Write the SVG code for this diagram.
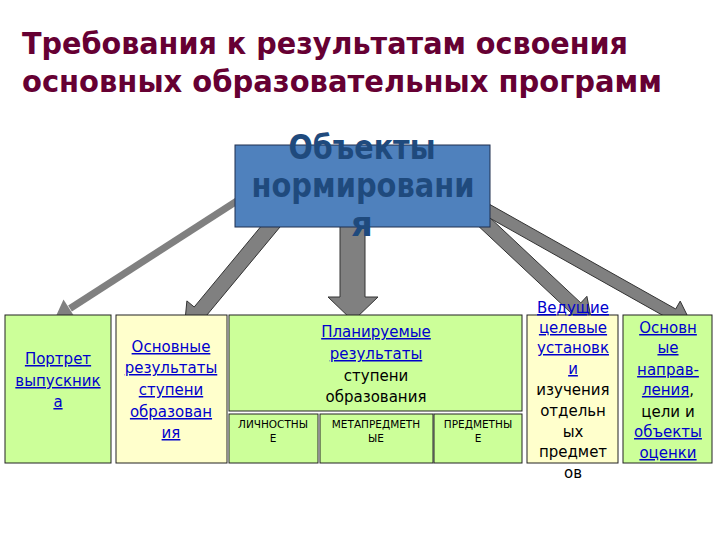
<svg xmlns="http://www.w3.org/2000/svg" width="720" height="540" viewBox="0 0 720 540">
<style>
.title{font-family:"DejaVu Sans Condensed","DejaVu Sans",sans-serif;font-weight:bold;font-size:31px;fill:#660033}
.box{stroke:#222;stroke-width:1}
.green{fill:#ccff99}
.yellow{fill:#ffffcc}
.t{font-family:"DejaVu Sans","Verdana",sans-serif;font-size:15px;text-anchor:middle;fill:#000}
.lnk{fill:#0000cc;text-decoration:underline}
.s{font-family:"DejaVu Sans",sans-serif;font-size:10.5px;text-anchor:middle;fill:#000}
.blk{fill:#808080;stroke:#333;stroke-width:1;stroke-linejoin:miter}
.ctext{font-family:"DejaVu Sans",sans-serif;font-weight:bold;font-size:34px;text-anchor:middle;fill:#1f4a7d}
</style>
<rect width="720" height="540" fill="#fff"/>
<g id="title">
<text class="title" x="22" y="54" textLength="606" lengthAdjust="spacingAndGlyphs">Требования к результатам освоения</text>
<text class="title" x="22" y="92" textLength="640" lengthAdjust="spacingAndGlyphs">основных образовательных программ</text>
</g>
<g id="connectors">
<polygon class="blk" points="277.2,206.8 194.2,307 186.9,300.9 184,331 213,322.6 205.7,316.5 288.8,216.4"/>
<polygon class="blk" points="340,210 340,297 328,297 353,321 378,297 365,297 365,210"/>
<polygon class="blk" points="460.8,209.6 571.2,313.1 565,319.6 592,323 586.9,296.3 580.8,302.9 470.4,199.4"/>
<polygon class="blk" points="462.9,203 669.9,319.4 665.5,327.3 692,325 680.2,301.1 675.7,309 468.7,192.6"/>
<line x1="240" y1="199" x2="70" y2="308.5" stroke="#808080" stroke-width="7"/>
<polygon points="56,316 63.5,299.6 76.3,319.4" fill="#808080"/>
</g>
<g id="objects">
<rect x="235" y="145" width="255" height="82" fill="#4f81bd" stroke="#1f2f4f" stroke-width="1"/>
<text class="ctext" x="362" y="159" textLength="147" lengthAdjust="spacingAndGlyphs">Объекты</text>
<text class="ctext" x="363" y="197" textLength="223" lengthAdjust="spacingAndGlyphs">нормировани</text>
<text class="ctext" x="362" y="236">я</text>
</g>
<g id="portrait">
<rect class="box green" x="5" y="315" width="106" height="148"/>
<text class="t" x="58" y="364"><tspan class="lnk">Портрет</tspan></text>
<text class="t" x="58" y="386"><tspan class="lnk">выпускник</tspan></text>
<text class="t" x="58" y="407"><tspan class="lnk">а</tspan></text>
</g>
<g id="basic-results">
<rect class="box yellow" x="116" y="315" width="111" height="148"/>
<text class="t" x="171" y="352"><tspan class="lnk">Основные</tspan></text>
<text class="t" x="171" y="373"><tspan class="lnk">результаты</tspan></text>
<text class="t" x="171" y="395"><tspan class="lnk">ступени</tspan></text>
<text class="t" x="171" y="417"><tspan class="lnk">образован</tspan></text>
<text class="t" x="171" y="438"><tspan class="lnk">ия</tspan></text>
</g>
<g id="planned-results">
<rect class="box green" x="229" y="315" width="293" height="96"/>
<text class="t" x="376" y="337"><tspan class="lnk">Планируемые</tspan></text>
<text class="t" x="376" y="359"><tspan class="lnk">результаты</tspan></text>
<text class="t" x="376" y="381">ступени</text>
<text class="t" x="376" y="402">образования</text>
</g>
<g id="personal">
<rect class="box green" x="229" y="414" width="89" height="49"/>
<text class="s" x="273" y="428">ЛИЧНОСТНЫ</text>
<text class="s" x="273" y="442">Е</text>
</g>
<g id="metasubject">
<rect class="box green" x="320" y="414" width="113" height="49"/>
<text class="s" x="376" y="428">МЕТАПРЕДМЕТН</text>
<text class="s" x="376" y="442">ЫЕ</text>
</g>
<g id="subject">
<rect class="box green" x="434" y="414" width="88" height="49"/>
<text class="s" x="478" y="428">ПРЕДМЕТНЫ</text>
<text class="s" x="478" y="442">Е</text>
</g>
<g id="leading-goals">
<rect class="box yellow" x="527" y="315" width="91" height="148"/>
<text class="t" x="573" y="313"><tspan class="lnk">Ведущие</tspan></text>
<text class="t" x="573" y="333"><tspan class="lnk">целевые</tspan></text>
<text class="t" x="573" y="353"><tspan class="lnk">установк</tspan></text>
<text class="t" x="573" y="374"><tspan class="lnk">и</tspan></text>
<text class="t" x="573" y="395">изучения</text>
<text class="t" x="573" y="416">отдельн</text>
<text class="t" x="573" y="437">ых</text>
<text class="t" x="573" y="457">предмет</text>
<text class="t" x="573" y="478">ов</text>
</g>
<g id="directions">
<rect class="box green" x="623" y="315" width="89" height="148"/>
<text class="t" x="668" y="333"><tspan class="lnk">Основн</tspan></text>
<text class="t" x="668" y="353"><tspan class="lnk">ые</tspan></text>
<text class="t" x="668" y="375"><tspan class="lnk">направ-</tspan></text>
<text class="t" x="668" y="395"><tspan class="lnk">ления</tspan>,</text>
<text class="t" x="668" y="417">цели и</text>
<text class="t" x="668" y="437"><tspan class="lnk">объекты</tspan></text>
<text class="t" x="668" y="458"><tspan class="lnk">оценки</tspan></text>
</g>
</svg>
